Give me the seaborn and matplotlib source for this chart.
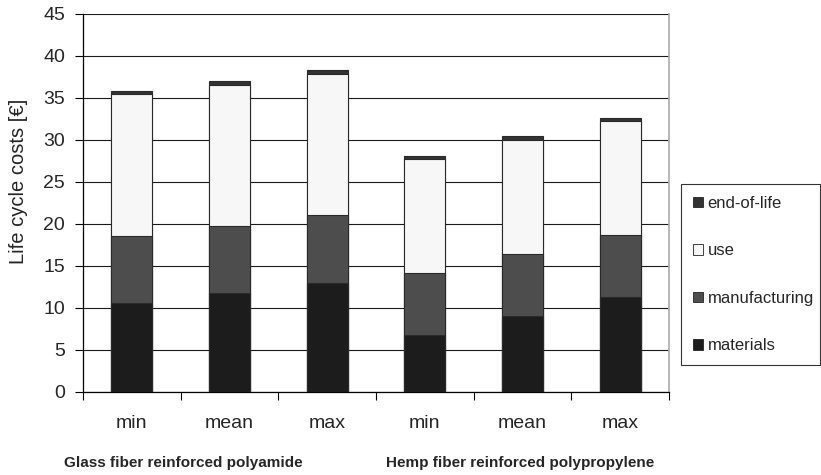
import numpy as np
import pandas as pd
import matplotlib
matplotlib.use("Agg")
import matplotlib.pyplot as plt
import seaborn as sns
from matplotlib.patches import Patch

# datos
casos = ["G-min", "G-mean", "G-max", "H-min", "H-mean", "H-max"]
etiquetas = ["min", "mean", "max", "min", "mean", "max"]
grupos = ["Glass fiber reinforced polyamide", "Hemp fiber reinforced polypropylene"]
materials = [10.6, 11.7, 12.9, 6.75, 9.0, 11.3]
manufacturing = [7.95, 8.0, 8.1, 7.35, 7.45, 7.35]
use = [16.95, 16.85, 16.85, 13.65, 13.55, 13.6]
end_of_life = [0.35, 0.5, 0.5, 0.36, 0.48, 0.4]

df = pd.DataFrame({"caso": casos, "materials": materials, "manufacturing": manufacturing,
                   "use": use, "end-of-life": end_of_life})

capas = ["materials", "manufacturing", "use", "end-of-life"]
colores = {"materials": "#1c1c1c", "manufacturing": "#4d4d4d", "use": "#f7f7f7", "end-of-life": "#333333"}

# acumulados para apilar
acum = df[capas].cumsum(axis=1)

sns.set_style("white")
plt.rcParams['font.family'] = ['Liberation Sans', 'DejaVu Sans']

fig = plt.figure(figsize=(8.21, 4.75), dpi=100)
ax = fig.add_axes([0.1011, 0.1754, 0.7138, 0.7952])

# dibujar de arriba hacia abajo
for capa in reversed(capas):
    sns.barplot(x=df["caso"], y=acum[capa], order=casos, color=colores[capa], width=0.42,
                edgecolor="#2a2a2a", linewidth=0.8, saturation=1, ax=ax, zorder=3)

ax.set_ylim(0, 45)
ax.set_xlim(-0.5, 5.5)
ax.set_yticks(np.arange(0, 46, 5))
ax.tick_params(axis='y', labelsize=14, length=6, width=0.8, direction='out', color='black', left=True, pad=7)
ax.set_xticks(range(6))
ax.set_xticklabels(etiquetas)
ax.tick_params(axis='x', which='major', length=0, labelsize=14, pad=17)
ax.set_xticks(np.arange(-0.5, 6, 1), minor=True)
ax.tick_params(axis='x', which='minor', length=6, width=0.8, direction='out', color='black', bottom=True)
ax.grid(axis='y', color='#1a1a1a', linewidth=0.8, zorder=0)
ax.set_axisbelow(True)
ax.set_xlabel("")
ax.set_ylabel("Life cycle costs [€]", fontsize=14.5)
ax.yaxis.set_label_coords(-0.094, 0.558)

for s in ["left", "bottom"]:
    ax.spines[s].set_color("black")
    ax.spines[s].set_linewidth(0.9)
ax.spines["top"].set_visible(False)
ax.spines["right"].set_color("#aaaaaa")
ax.spines["right"].set_linewidth(1.2)

# etiquetas de grupo
fig.text(0.223, 0.025, grupos[0], ha='center', va='center', fontsize=11, fontweight='bold')
fig.text(0.633, 0.025, grupos[1], ha='center', va='center', fontsize=11, fontweight='bold')

# leyenda en orden inverso
handles = [Patch(facecolor=colores[c], edgecolor="#222222", linewidth=0.6, label=c) for c in reversed(capas)]
leg = fig.legend(handles=handles, loc='center left', bbox_to_anchor=(0.8295, 0.2232, 0.169, 0.398),
                 frameon=True, fancybox=False, edgecolor='black', fontsize=12,
                 handlelength=0.6, handleheight=0.6, handletextpad=0.3, labelspacing=1.95,
                 borderpad=0.7, borderaxespad=0, mode='expand')
leg.get_frame().set_linewidth(0.8)

fig.savefig("out.png", dpi=100)
